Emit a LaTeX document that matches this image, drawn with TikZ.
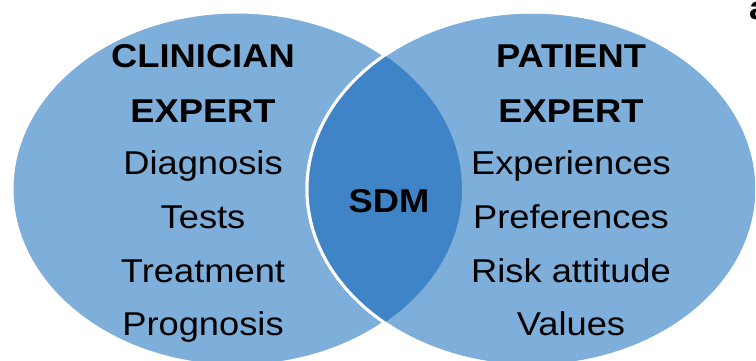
\documentclass[tikz,border=0pt]{standalone}
\usepackage{fontspec}
\setmainfont[FakeStretch=1.1]{Liberation Sans}
\definecolor{lightblue}{HTML}{7EAEDA}
\definecolor{darkblue}{HTML}{3F84C7}
\tikzset{
  circ/.style={fill=lightblue, draw=white, line width=3pt},
  lbl/.style={anchor=base, inner sep=0pt, text=black, font=\fontsize{33}{40}\selectfont},
  hdr/.style={lbl, font=\fontsize{33}{40}\selectfont\bfseries}
}
\begin{document}
\begin{tikzpicture}[x=1pt,y=-1pt]
\useasboundingbox (0,0) rectangle (756,361);
\begin{scope}
\clip (0,0) rectangle (756,361);
\path[circ] (237,189) ellipse [x radius=225, y radius=177];
\path[circ] (532,189) ellipse [x radius=225, y radius=177];
\begin{scope}
\clip (237,189) ellipse [x radius=225, y radius=177];
\fill[darkblue] (532,189) ellipse [x radius=225, y radius=177];
\end{scope}
\draw[white, line width=3pt] (532,189) ellipse [x radius=225, y radius=177];
\node[hdr, anchor=base west] (cut) at (749,20) {a};
\end{scope}
\node[hdr] (clin) at (203,68) {CLINICIAN};
\node[hdr] (exp1) at (203,122) {EXPERT};
\node[lbl] (diag) at (203,175) {Diagnosis};
\node[lbl] (tests) at (203,228) {Tests};
\node[lbl] (treat) at (203,282) {Treatment};
\node[lbl] (prog) at (203,335) {Prognosis};
\node[hdr] (pat) at (571,68) {PATIENT};
\node[hdr] (exp2) at (571,122) {EXPERT};
\node[lbl] (expe) at (571,175) {Experiences};
\node[lbl] (pref) at (571,228) {Preferences};
\node[lbl] (risk) at (571,282) {Risk attitude};
\node[lbl] (val) at (571,335) {Values};
\node[hdr] (sdm) at (389,212) {SDM};
\end{tikzpicture}
\end{document}
